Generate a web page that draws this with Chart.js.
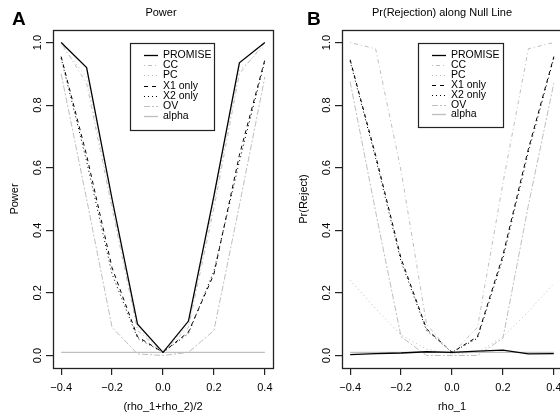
<!DOCTYPE html>
<html>
<head>
<meta charset="UTF-8">
<title>Power and Pr(Rejection)</title>
<script src="https://cdn.jsdelivr.net/npm/chart.js"></script>
<style>
  body { margin: 0; width: 560px; height: 419px; overflow: hidden; background: #fff; position: relative;
         font-family: 'Liberation Sans', Arial, sans-serif; }
  .panel { position: absolute; top: 0; width: 280px; height: 419px; }
  .tag { position: absolute; font-weight: bold; font-size: 19px; }
  .title { position: absolute; font-size: 11px; white-space: nowrap; transform: translateX(-50%); }
</style>
</head>
<body>
<div class="panel" style="left:0"><canvas id="chartA" width="280" height="419"></canvas></div>
<div class="panel" style="left:289px"><canvas id="chartB" width="280" height="419"></canvas></div>
<div class="tag" style="left:12px;top:8px">A</div>
<div class="tag" style="left:307px;top:8px">B</div>
<div class="title" style="left:161px;top:6px">Power</div>
<div class="title" style="left:442px;top:6px">Pr(Rejection) along Null Line</div>

<script>
// x positions (same for both panels)
const xVals = [-0.4, -0.3, -0.2, -0.1, 0.0, 0.1, 0.2, 0.3, 0.4];
const xTicks = [-0.4, -0.2, 0.0, 0.2, 0.4];
const yTicks = [0.0, 0.2, 0.4, 0.6, 0.8, 1.0];
const seriesNames = ['PROMISE', 'CC', 'PC', 'X1 only', 'X2 only', 'OV', 'alpha'];

// panel A: power
const promiseA = [1.00, 0.92, 0.50, 0.10, 0.01, 0.11, 0.51, 0.935, 1.00];
const ccA      = [1.00, 0.87, 0.47, 0.08, 0.01, 0.09, 0.47, 0.90, 1.00];
const pcA      = [0.99, 0.89, 0.48, 0.09, 0.01, 0.10, 0.49, 0.91, 0.99];
const x1A      = [0.955, 0.64, 0.28, 0.06, 0.01, 0.075, 0.26, 0.64, 0.945];
const x2A      = [0.95, 0.62, 0.26, 0.055, 0.01, 0.07, 0.27, 0.62, 0.94];
const ovA      = [0.90, 0.50, 0.09, 0.005, 0.0, 0.01, 0.08, 0.48, 0.89];
const alphaA   = [0.01, 0.01, 0.01, 0.01, 0.01, 0.01, 0.01, 0.01, 0.01];

// panel B: Pr(reject) along null line
const promiseB = [0.003, 0.006, 0.008, 0.012, 0.010, 0.014, 0.017, 0.005, 0.006];
const ccB      = [1.00, 0.98, 0.59, 0.10, 0.005, 0.09, 0.55, 0.98, 1.00];
const pcB      = [0.24, 0.15, 0.065, 0.02, 0.005, 0.01, 0.06, 0.14, 0.23];
const x1B      = [0.945, 0.64, 0.31, 0.085, 0.01, 0.06, 0.32, 0.66, 0.955];
const x2B      = [0.94, 0.63, 0.30, 0.08, 0.01, 0.055, 0.31, 0.65, 0.95];
const ovB      = [0.875, 0.46, 0.06, 0.0, 0.0, 0.0, 0.055, 0.48, 0.87];
const alphaB   = [0.01, 0.01, 0.01, 0.01, 0.01, 0.01, 0.01, 0.01, 0.01];

const FONT = "'Liberation Sans', Arial, sans-serif";
const GREY = '#bebebe';
// line styles in legend order
const styles = [
  { color: '#000', dash: [], width: 1.3 },
  { color: GREY, dash: [1, 3, 4, 3], width: 1 },
  { color: GREY, dash: [1, 3], width: 1 },
  { color: '#000', dash: [4, 4], width: 1 },
  { color: '#000', dash: [1, 3], width: 1 },
  { color: GREY, dash: [6, 2, 2, 2], width: 1 },
  { color: GREY, dash: [], width: 1.3 }
];

function fmt(v) {
  return (v < 0 ? '\u2212' : '') + Math.abs(v).toFixed(1);
}

// box round the plot region, like R's box()
const boxPlugin = {
  id: 'box',
  afterDraw(chart) {
    const a = chart.chartArea, ctx = chart.ctx;
    ctx.save();
    ctx.strokeStyle = '#222';
    ctx.lineWidth = 1.3;
    ctx.strokeRect(Math.round(a.left) + 0.5, Math.round(a.top) + 0.5,
                   Math.round(a.right - a.left), Math.round(a.bottom - a.top));
    ctx.restore();
  }
};

// legend drawn inside the plot like R's legend()
const legendPlugin = {
  id: 'rLegend',
  afterDraw(chart, args, opts) {
    const ctx = chart.ctx;
    const x0 = chart.chartArea.left + opts.dx;
    const y0 = opts.top;
    ctx.save();
    ctx.fillStyle = '#fff';
    ctx.fillRect(x0, y0, opts.w, opts.h);
    ctx.strokeStyle = '#222';
    ctx.lineWidth = 1.2;
    ctx.strokeRect(x0 + 0.5, y0 + 0.5, opts.w, opts.h);
    ctx.font = '10.5px ' + FONT;
    ctx.textBaseline = 'middle';
    chart.data.datasets.forEach((ds, i) => {
      const y = Math.round(y0 + 12 + i * opts.rowH) + 0.5;
      ctx.strokeStyle = ds.borderColor;
      ctx.lineWidth = ds.borderWidth;
      ctx.setLineDash(ds.borderDash);
      ctx.beginPath();
      ctx.moveTo(x0 + 14, y);
      ctx.lineTo(x0 + 28, y);
      ctx.stroke();
      ctx.setLineDash([]);
      ctx.fillStyle = '#000';
      ctx.fillText(ds.label, x0 + 33, y);
    });
    ctx.restore();
  }
};

function makeChart(id, series, xTitle, yTitle, legendOpts) {
  const datasets = series.map((vals, i) => ({
    label: seriesNames[i],
    data: vals.map((v, j) => ({ x: xVals[j], y: v })),
    borderColor: styles[i].color,
    borderDash: styles[i].dash,
    borderWidth: styles[i].width,
    pointRadius: 0,
    tension: 0,
    fill: false
  }));
  const tickFont = { family: FONT, size: 11 };
  new Chart(document.getElementById(id), {
    type: 'line',
    data: { datasets },
    plugins: [boxPlugin, legendPlugin],
    options: {
      responsive: false,
      animation: false,
      layout: { padding: { top: 30, right: 7, left: 0, bottom: 0 } },
      plugins: {
        legend: { display: false },
        tooltip: { enabled: false },
        rLegend: legendOpts
      },
      scales: {
        x: {
          type: 'linear', min: -0.432, max: 0.432,
          afterBuildTicks: s => { s.ticks = xTicks.map(v => ({ value: v })); },
          afterFit: s => { s.height = 51; },
          grid: { drawOnChartArea: false, tickLength: 7, color: '#222', lineWidth: 1.2 },
          border: { display: false },
          ticks: { callback: fmt, padding: 6, font: tickFont, color: '#000', maxRotation: 0, autoSkip: false },
          title: { display: true, text: xTitle, font: tickFont, color: '#000', padding: { top: 0, bottom: 5 } }
        },
        y: {
          min: -0.04, max: 1.04,
          afterBuildTicks: s => { s.ticks = yTicks.map(v => ({ value: v })); },
          afterFit: s => { s.width = 53; },
          grid: { drawOnChartArea: false, tickLength: 7, color: '#222', lineWidth: 1.2 },
          border: { display: false },
          ticks: { callback: v => v.toFixed(1), padding: 0, font: tickFont, color: '#000',
                   minRotation: 90, maxRotation: 90, crossAlign: 'center', autoSkip: false },
          title: { display: true, text: yTitle, font: tickFont, color: '#000', padding: { top: 8, bottom: 0 } }
        }
      }
    }
  });
}

makeChart('chartA', [promiseA, ccA, pcA, x1A, x2A, ovA, alphaA],
          '(rho_1+rho_2)/2', 'Power', { dx: 77, top: 43, w: 84, h: 87, rowH: 10.2 });
makeChart('chartB', [promiseB, ccB, pcB, x1B, x2B, ovB, alphaB],
          'rho_1', 'Pr(Reject)', { dx: 76, top: 43, w: 85, h: 84, rowH: 9.9 });
</script>
</body>
</html>
